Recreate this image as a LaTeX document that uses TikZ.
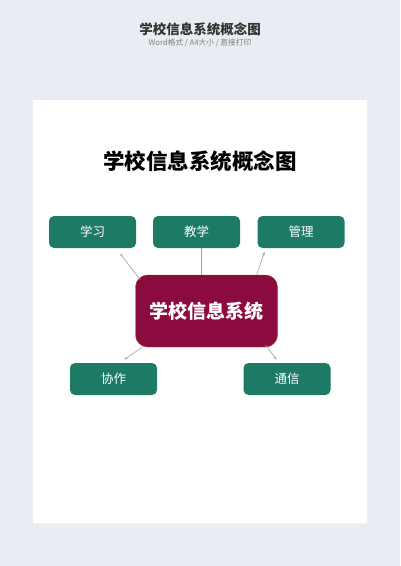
\documentclass[tikz,border=0pt]{standalone}
\usepackage{fontspec}
\setmainfont{Noto Sans CJK SC}
\usepackage{tikz}
\usetikzlibrary{
	positioning,
	arrows.meta
}

\definecolor{pagebg}{HTML}{E9ECF2}
\definecolor{concept}{HTML}{1D7A64}
\definecolor{hubred}{HTML}{8C0B3E}
\definecolor{linkgray}{HTML}{A0A0A0}

\tikzset{
	topic/.style={rectangle, rounded corners=5pt, fill=concept, text=white,
		minimum width=87pt, minimum height=32pt, inner sep=0pt,
		font=\fontsize{12.5}{14}\selectfont},
	hub/.style={rectangle, rounded corners=12pt, fill=hubred, draw=hubred!80!white,
		text=white, minimum width=142pt, minimum height=72pt, inner sep=0pt,
		font=\fontsize{19}{22}\selectfont\bfseries},
	link/.style={draw=linkgray, line width=0.6pt},
	linkarrow/.style={link, -{Stealth[length=3pt,width=2.6pt]}, shorten >=5pt}
}

\begin{document}
\begin{tikzpicture}[x=1pt,y=-1pt]
		\fill[pagebg] (0,0) rectangle (400,566);
		\useasboundingbox (0,0) rectangle (400,566);
		\fill[black!6] (34,102) rectangle (368,525);
		\fill[white] (33,100) rectangle (367,523);

		\node[text=black!80, font=\fontsize{13.5}{15}\selectfont\bfseries] (head) at (200,29) {学校信息系统概念图};
		\node[text=black!50, font=\fontsize{7.7}{9}\selectfont] (sub) at (200,43) {Word格式 / A4大小 / 直接打印};
		\node[text=black, font=\fontsize{21.5}{24}\selectfont\bfseries] (title) at (200,161) {学校信息系统概念图};

		\draw
			node[topic] (study)  at (92.5,232)  {学习}
			node[topic] (teach)  at (196.5,232) {教学}
			node[topic] (manage) at (301,232)   {管理}
			node[hub]   (sys)    at (206.5,311) {学校信息系统}
			node[topic] (collab) at (113.5,379) {协作}
			node[topic] (comm)   at (287,379)   {通信}

			([shift={(5,5)}]sys.north west)   edge[linkarrow, shorten >=7pt] ([xshift=23.5pt]study.south)
			([xshift=-5.5pt]sys.north)        edge[link]                     ([xshift=4.5pt]teach.south)
			([xshift=-21pt]sys.north east)    edge[linkarrow, shorten >=4pt] ([xshift=8.5pt]manage.south west)
			([shift={(7,0)}]sys.south west)   edge[linkarrow, shorten >=6pt] ([xshift=6pt]collab.north)
			([shift={(-12,-2)}]sys.south east) edge[linkarrow, shorten >=4pt] ([xshift=-8pt]comm.north)
		;
	\end{tikzpicture}
\end{document}
